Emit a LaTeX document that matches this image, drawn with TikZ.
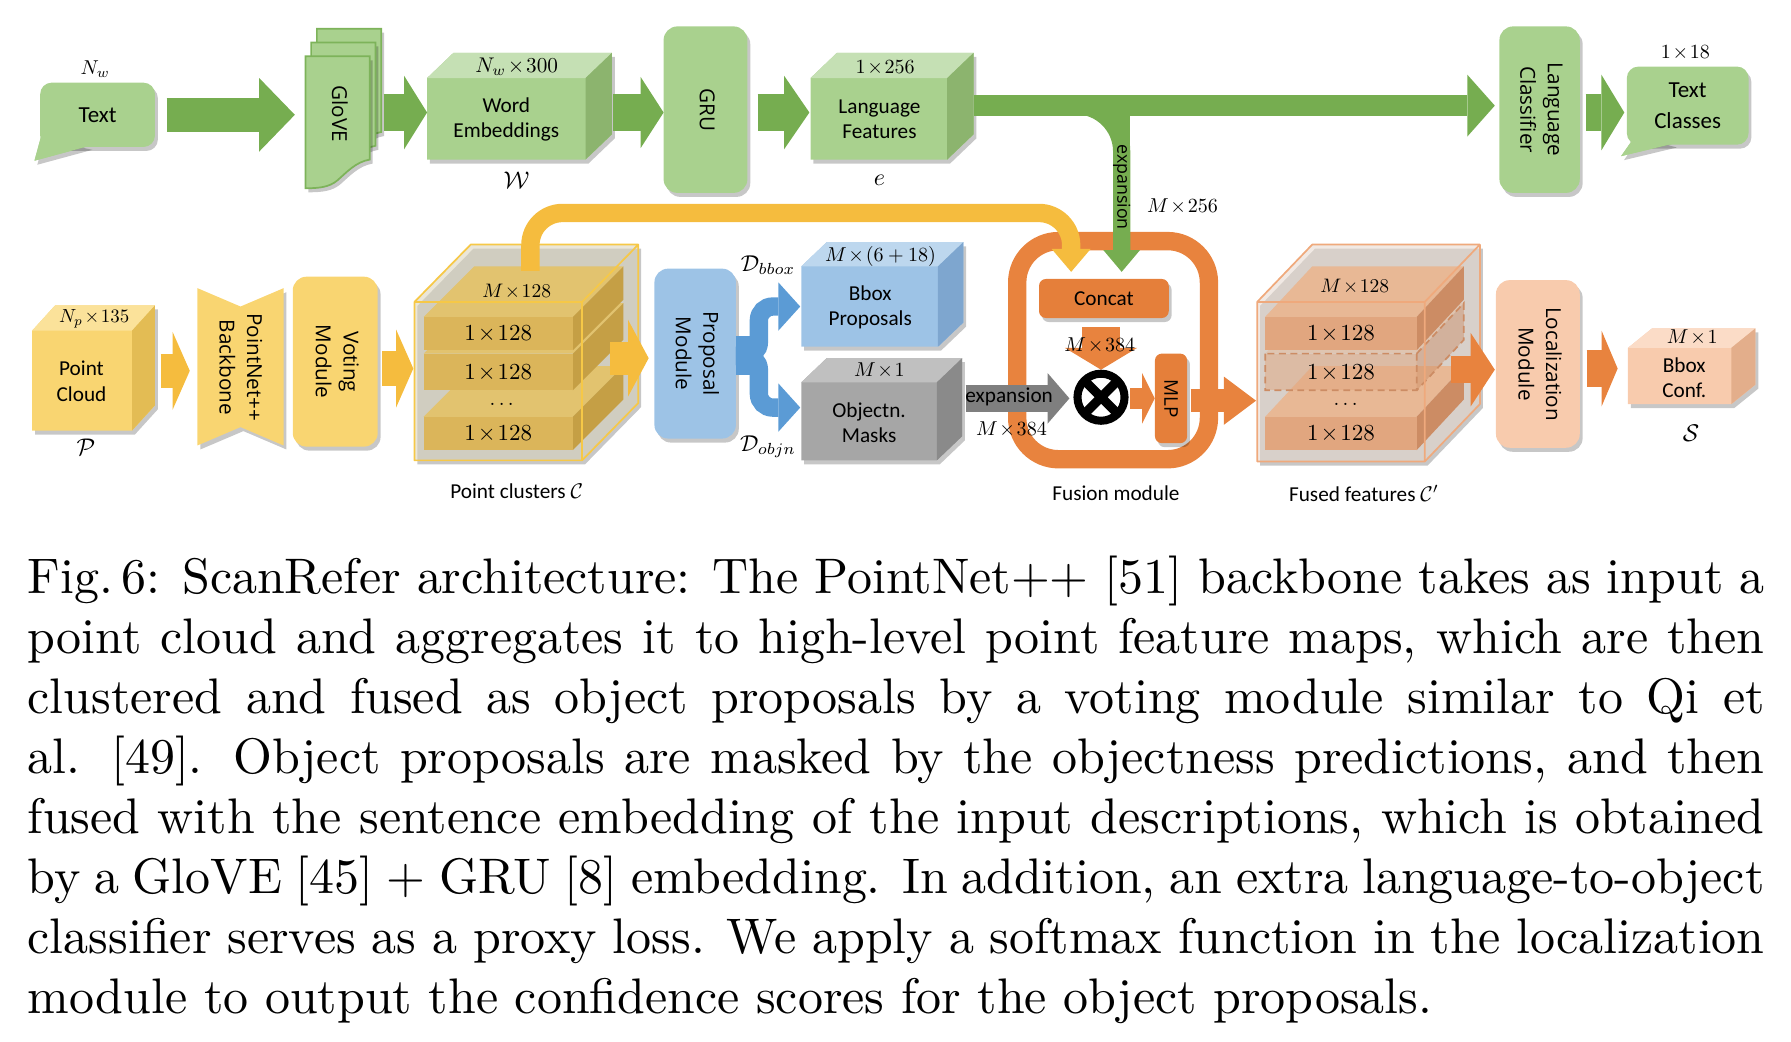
\documentclass[tikz,border=0pt]{standalone}
\usepackage{fontspec}
\usepackage{graphicx}
\usetikzlibrary{arrows.meta,shadows}
\newfontfamily\carl{Carlito}
\newfontfamily\osans{Open Sans}
\definecolor{gF}{HTML}{A9D18E}\definecolor{gT}{HTML}{C5E0B4}\definecolor{gS}{HTML}{8CB46E}
\definecolor{gE}{HTML}{7DB35A}\definecolor{gA}{HTML}{76AD50}
\definecolor{yF}{HTML}{F9D571}\definecolor{yT}{HTML}{FBE29A}\definecolor{yS}{HTML}{E3BC54}
\definecolor{yA}{HTML}{F5BC3E}
\definecolor{bF}{HTML}{9DC3E6}\definecolor{bT}{HTML}{BDD7EE}\definecolor{bS}{HTML}{7EA6CF}
\definecolor{bA}{HTML}{5B9BD5}
\definecolor{aF}{HTML}{A6A6A6}\definecolor{aT}{HTML}{C0C0C0}\definecolor{aS}{HTML}{8A8A8A}
\definecolor{aA}{HTML}{7F7F7F}
\definecolor{pF}{HTML}{F8CBAD}\definecolor{pT}{HTML}{FBDCC7}\definecolor{pS}{HTML}{E3AE8B}
\definecolor{oA}{HTML}{E8833E}\definecolor{oC}{HTML}{E57F3A}
\definecolor{sF}{HTML}{DBB55A}\definecolor{sT}{HTML}{E2C36F}\definecolor{sS}{HTML}{C59F45}
\definecolor{tF}{HTML}{E1A67F}\definecolor{tT}{HTML}{E8B895}\definecolor{tS}{HTML}{CC8C64}
\definecolor{cbk}{HTML}{D8D1BA}\definecolor{cedge}{HTML}{F6C847}
\definecolor{obk}{HTML}{E5D7CD}\definecolor{oedge}{HTML}{EFA97C}
\newcommand\rtext[1]{\rotatebox{-90}{\begin{tabular}{@{}c@{}}#1\end{tabular}}}
\newcommand\tm{\mskip1.5mu{\times}\mskip1.5mu}
\newcommand\ml[2]{\scalebox{#1}{\fontsize{10}{12}\selectfont$#2$}}
% cube: name, x1, y1, x2, y2, dx, dy(up), colour prefix
\newcommand\cube[8]{%
 \fill[#8F, shd] (#2,#3) -- (#2+#6,#3-#7) -- (#4+#6,#3-#7) -- (#4+#6,#5-#7) -- (#4,#5) -- (#2,#5) -- cycle;
 \fill[#8T] (#2,#3) -- (#2+#6,#3-#7) -- (#4+#6,#3-#7) -- (#4,#3) -- cycle;
 \fill[#8S] (#4,#3) -- (#4+#6,#3-#7) -- (#4+#6,#5-#7) -- (#4,#5) -- cycle;
 \node[inner sep=0pt, outer sep=0pt, minimum width=#4-#2, minimum height=#5-#3, anchor=north west] (#1) at (#2,#3) {};
}
% slab: x1, y1, x2, y2, dx, dy(up), colour prefix
\newcommand\slab[7]{%
 \fill[#7T] (#1,#2) -- (#1+#5,#2-#6) -- (#3+#5,#2-#6) -- (#3,#2) -- cycle;
 \fill[#7S] (#3,#2) -- (#3+#5,#2-#6) -- (#3+#5,#4-#6) -- (#3,#4) -- cycle;
 \fill[#7F] (#1,#2) rectangle (#3,#4);
}
\begin{document}
\begin{tikzpicture}[x=1pt,y=-1pt,
  shd/.style={drop shadow={shadow xshift=2.5pt,shadow yshift=-3.5pt,opacity=0.22,fill=black}},
  rbox/.style={rounded corners=12pt, inner sep=0pt, outer sep=0pt, font=\osans\fontsize{18}{24}\selectfont, shd},
  lab/.style={inner sep=0pt, align=center, font=\carl\fontsize{18.5}{22}\selectfont},
  mlab/.style={inner sep=0pt},
  blk/.style n args={3}{line width=#1, line cap=butt, -{Triangle[width=#2,length=#3,line width=0pt]}}]
\useasboundingbox (0,0) rectangle (1560,907);

% ---------------- top row ----------------
\node[mlab] (nw) at (83,60) {\ml{1.75}{N_w}};
\fill[gF, shd] (36,118) -- (30,140) -- (78,127) -- cycle;
\node[fill=gF, rounded corners=10pt, minimum width=100pt, minimum height=56pt, inner sep=0pt,
      font=\carl\fontsize{20}{24}\selectfont, shd] (txt) at (85,100) {Text};
\fill[gF] (36,118) -- (30,140) -- (78,127) -- cycle;

\foreach \s in {2,1,0}
  \fill[gF, draw=gE, line width=1.5pt, shd, shift={({5*\s},{-12*\s})}]
    (266,49) -- (322,49) -- (322,139) .. controls (310,141) and (302,150) .. (294,157)
    .. controls (287,163) and (278,164) .. (266,164) -- cycle;
\node[inner sep=0pt, minimum width=56pt, minimum height=100pt, font=\osans\fontsize{18}{24}\selectfont] (glove) at (294,99) {\rtext{GloVE}};

\cube{we}{372}{68}{510}{139}{23}{22}{g}
\node[mlab] (wedim) at (450,58) {\ml{1.85}{N_w\tm300}};
\node[lab] (wel) at (441,104) {Word\\Embeddings};
\node[mlab] (wsym) at (450,157) {\ml{2.1}{\mathcal{W}}};

\node[rbox, fill=gF, minimum width=73pt, minimum height=145pt] (gru) at (614.5,95.5) {\rtext{GRU}};

\cube{lf}{706}{68}{825}{139}{23}{22}{g}
\node[mlab] (lfdim) at (771,59) {\ml{1.75}{1\tm256}};
\node[lab] (lfl) at (766,104) {Language\\Features};
\node[mlab] (esym) at (766,157) {\ml{2.1}{e}};

\node[rbox, fill=gF, minimum width=70pt, minimum height=145pt] (lc) at (1341,95.5) {\rtext{Language\\Classifier}};

\fill[gF, shd] (1426,116) -- (1412,136) -- (1458,125) -- cycle;
\node[fill=gF, rounded corners=10pt, minimum width=106pt, minimum height=68pt, inner sep=0pt, align=center,
      font=\carl\fontsize{20}{27}\selectfont, shd] (tc) at (1470,92) {Text\\Classes};
\fill[gF] (1426,116) -- (1412,136) -- (1458,125) -- cycle;
\node[mlab] (tcdim) at (1468,46) {\ml{1.75}{1\tm18}};

\draw[gA, blk={30pt}{64pt}{31pt}, shorten <=10pt, shorten >=9pt] (txt.east |- 0,100) -- (glove.west |- 0,100);
\draw[gA, blk={32pt}{64pt}{20pt}, shorten <=12pt] (glove.east |- 0,98) -- (we.west |- 0,98);
\draw[gA, blk={33pt}{62pt}{20pt}, shorten <=24pt] (we.east |- 0,98) -- (gru.west |- 0,98);
\draw[gA, blk={32pt}{64pt}{22pt}, shorten <=9pt, shorten >=1pt] (gru.east |- 0,98) -- (lf.west |- 0,98);
\draw[gA, blk={18pt}{54pt}{24pt}, shorten <=23pt, shorten >=4pt] (lf.east |- 0,92) -- (lc.west |- 0,92);
\draw[gA, blk={32pt}{66pt}{20pt}, shorten <=5pt, shorten >=2pt] (lc.east |- 0,98) -- (tc.west |- 0,98);

% ---------------- bottom row ----------------
\cube{pc}{28}{288}{115}{375}{20}{22}{y}
\node[mlab] (pcdim) at (82,278) {\ml{1.65}{N_p\tm135}};
\node[lab] (pctxt) at (71,332) {Point\\Cloud};
\node[mlab] (psym) at (75,390) {\ml{2.1}{\mathcal{P}}};

\fill[yF, shd] (172,251) -- (209.5,267) -- (247,251) -- (247,388) -- (209.5,372) -- (172,388) -- cycle;
\node[inner sep=0pt, minimum width=75pt, minimum height=137pt, font=\osans\fontsize{18}{24}\selectfont] (bb) at (208,320) {\rtext{PointNet++\\Backbone}};

\node[rbox, fill=yF, minimum width=74pt, minimum height=148pt] (vm) at (292,315) {\rtext{Voting\\Module}};

% point clusters
\fill[cbk, fill opacity=0.55, shd] (361,263) -- (410,213) -- (556,213) -- (556,351) -- (507,401) -- (361,401) -- cycle;
\slab{369}{363}{499}{392}{44}{44}{s}
\slab{369}{308}{499}{340}{44}{44}{s}
\slab{369}{276}{499}{305}{44}{44}{s}
\draw[cedge, line width=1.5pt, line join=round] (361,263) rectangle (507,401)
  (361,263) -- (410,213) -- (556,213) -- (556,351) -- (507,401) (507,263) -- (556,213);
\node[inner sep=0pt, minimum width=146pt, minimum height=138pt, anchor=north west] (pcl) at (361,263) {};
\node[mlab] (pcldim) at (450,254) {\ml{1.7}{M\tm128}};
\node[mlab] (pcs1) at (434,291) {\ml{2.0}{1\tm128}};
\node[mlab] (pcs2) at (434,325) {\ml{2.0}{1\tm128}};
\node[mlab] (pcs3) at (434,378) {\ml{2.0}{1\tm128}};
\node[mlab] (pcdots) at (437,352) {\ml{1.8}{\ldots}};
\node[lab] (pcllab) at (450,428) {Point clusters \ml{1.85}{\mathcal{C}}};

\draw[yA, blk={30pt}{68pt}{15pt}, shorten <=25pt, shorten >=5pt] (pc.east |- 0,323) -- (bb.west |- 0,323);
\draw[yA, blk={30pt}{68pt}{15pt}, shorten <=4pt, shorten >=1pt] (vm.east |- 0,321) -- (pcl.west |- 0,321);

\node[rbox, fill=bF, minimum width=71pt, minimum height=148pt] (pm) at (605.5,308) {\rtext{Proposal\\Module}};
\draw[yA, blk={29pt}{67pt}{18pt}, shorten <=24pt, shorten >=5pt] (pcl.east |- 0,312) -- (pm.west |- 0,312);

\cube{bbox}{698}{232}{817}{302}{22}{21}{b}
\node[mlab] (bbdim) at (767,223) {\ml{1.75}{M\tm(6+18)}};
\node[lab] (bbtxt) at (758,268) {Bbox\\Proposals};
\node[mlab] (dbb) at (669,231) {\ml{2.0}{\mathcal{D}_{bbox}}};

\cube{objm}{698}{333}{816}{401}{22}{21}{a}
\node[mlab] (obdim) at (766,323) {\ml{1.75}{M\tm1}};
\node[lab] (obtxt) at (757,368) {Objectn.\\Masks};
\node[mlab] (dob) at (669,389) {\ml{2.0}{\mathcal{D}_{objn}}};

\coordinate (fork) at (661,310);
\draw[bA, line width=34pt] (pm.east |- 0,310) -- (655,310);
\draw[bA, line width=16pt, rounded corners=12pt, -{Triangle[width=42pt,length=19pt,line width=0pt]}, shorten >=1pt]
  (pm.east |- 0,310) -- (fork) -- (fork |- 0,267) -- (bbox.west |- 0,267);
\draw[bA, line width=16pt, rounded corners=12pt, -{Triangle[width=42pt,length=19pt,line width=0pt]}, shorten >=1pt]
  (pm.east |- 0,310) -- (fork) -- (fork |- 0,355) -- (objm.west |- 0,355);

% fusion module
\node[draw=oA, line width=16pt, rounded corners=36pt, minimum width=167pt, minimum height=190pt, inner sep=0pt, outer sep=0pt] (fus) at (969.5,305) {};
\node[lab] (fuslab) at (972,430) {Fusion module};
\node[fill=oC, rounded corners=6pt, minimum width=113pt, minimum height=34pt, inner sep=0pt,
      font=\carl\fontsize{18.5}{22}\selectfont, shd] (concat) at (961.5,260) {Concat};

\coordinate (ystart) at (462,236);
\draw[yA, line width=16pt, rounded corners=28pt, -{Triangle[width=34pt,length=20pt,line width=0pt]}, shorten >=6pt]
  (ystart) -- (462,185.5) -- (933,185.5) -- (933,0 |- concat.north);

\coordinate (gbs) at (925,92);
\draw[gA, line width=15pt, rounded corners=40pt, -{Triangle[width=32pt,length=19pt,line width=0pt]}, shorten >=6pt]
  (gbs) -- (977,92) -- (977,0 |- concat.north);
\fill[gA] (970,96) rectangle (984.5,136);
\node[inner sep=0pt, font=\osans\fontsize{15.5}{18}\selectfont] (exp1) at (977,163) {\rotatebox{-90}{expansion}};
\node[mlab] (m256) at (1030,180) {\ml{1.75}{M\tm256}};

\node[circle, fill=white, draw=black, line width=7pt, minimum size=41pt, inner sep=0pt, outer sep=0pt] (ot) at (959,346) {};
\draw[black, line width=8pt] (ot.north west) -- (ot.south east) (ot.north east) -- (ot.south west);
\draw[oA, blk={33pt}{63pt}{19pt}, shorten <=8pt, shorten >=3.5pt] (ot.north |- concat.south) -- (ot.north);
\node[mlab] (m384a) at (958,301) {\ml{1.75}{M\tm384}};

\node[fill=oC, rounded corners=6pt, minimum width=28pt, minimum height=78pt, inner sep=0pt,
      font=\osans\fontsize{16.5}{20}\selectfont, shd] (mlp) at (1020,347) {\rotatebox{-90}{MLP}};
\draw[oA, blk={18pt}{44pt}{11pt}, shorten <=5pt] (ot.east |- 0,347) -- (mlp.west |- 0,347);

\draw[aA, blk={24pt}{44pt}{19pt}, shorten <=25pt, shorten >=7pt] (objm.east |- 0,347) -- (ot.west |- 0,347);
\node[lab] (expl) at (879,346) {expansion};
\node[mlab] (m384b) at (881,374) {\ml{1.75}{M\tm384}};

% fused features
\fill[obk, fill opacity=0.55, shd] (1095,263) -- (1143,213) -- (1289,213) -- (1289,352) -- (1241,402) -- (1095,402) -- cycle;
\slab{1102}{363}{1234}{392}{41}{44}{t}
\fill[tT, fill opacity=0.45] (1102,308) -- (1143,264) -- (1275,264) -- (1234,308) -- cycle;
\fill[tS, fill opacity=0.45] (1234,308) -- (1275,264) -- (1275,296) -- (1234,340) -- cycle;
\fill[tF, fill opacity=0.5] (1102,308) rectangle (1234,340);
\draw[tS, line width=1.5pt, dash pattern=on 6pt off 4pt] (1102,308) rectangle (1234,340) (1234,308) -- (1275,264) -- (1275,296) -- (1234,340);
\slab{1102}{276}{1234}{305}{41}{44}{t}
\draw[oedge, line width=1.5pt, line join=round] (1095,263) rectangle (1241,402)
  (1095,263) -- (1143,213) -- (1289,213) -- (1289,352) -- (1241,402) (1241,263) -- (1289,213);
\node[inner sep=0pt, minimum width=146pt, minimum height=139pt, anchor=north west] (ff) at (1095,263) {};
\node[mlab] (ffdim) at (1180,250) {\ml{1.7}{M\tm128}};
\node[mlab] (ffs1) at (1168,291) {\ml{2.0}{1\tm128}};
\node[mlab] (ffs2) at (1168,325) {\ml{2.0}{1\tm128}};
\node[mlab] (ffs3) at (1168,378) {\ml{2.0}{1\tm128}};
\node[mlab] (ffdots) at (1172,352) {\ml{1.8}{\ldots}};
\node[lab] (fflab) at (1188,430) {Fused features \ml{1.85}{\mathcal{C}'}};

\draw[oA, blk={20pt}{42pt}{28pt}, shorten <=3pt, shorten >=1pt] (mlp.east |- 0,349) -- (ff.west |- 0,349);

\node[rbox, fill=pF, minimum width=73pt, minimum height=146pt] (loc) at (1339.5,317) {\rtext{Localization\\Module}};
\draw[oA, blk={24pt}{64pt}{21pt}, shorten <=22pt, shorten >=1pt] (ff.east |- 0,322) -- (loc.west |- 0,322);

\cube{bc}{1418}{303}{1508}{352}{21}{17}{p}
\node[mlab] (bcdim) at (1474,294) {\ml{1.75}{M\tm1}};
\node[lab] (bctxt) at (1467,329) {Bbox\\Conf.};
\node[mlab] (ssym) at (1473,377) {\ml{2.1}{\mathcal{S}}};
\draw[oA, blk={32pt}{66pt}{14pt}, shorten <=6pt, shorten >=9pt] (loc.east |- 0,321) -- (bc.west |- 0,321);

% ---------------- caption ----------------
\node[anchor=base west, inner sep=0pt] (cap) at (24,517) {\scalebox{4.351}{\parbox[t]{347.7pt}{\fontsize{10}{12}\selectfont
\makebox[\linewidth][s]{Fig.\,6: ScanRefer architecture: The PointNet++ [51] backbone takes as input a}\\
\makebox[\linewidth][s]{point cloud and aggregates it to high-level point feature maps, which are then}\\
\makebox[\linewidth][s]{clustered and fused as object proposals by a voting module similar to Qi et}\\
\makebox[\linewidth][s]{al. [49]. Object proposals are masked by the objectness predictions, and then}\\
\makebox[\linewidth][s]{fused with the sentence embedding of the input descriptions, which is obtained}\\
\makebox[\linewidth][s]{by a GloVE [45] $+$ GRU [8] embedding. In addition, an extra language-to-object}\\
\makebox[\linewidth][s]{classifier serves as a proxy loss. We apply a softmax function in the localization}\\
module to output the confidence scores for the object proposals.}}};
\end{tikzpicture}
\end{document}
